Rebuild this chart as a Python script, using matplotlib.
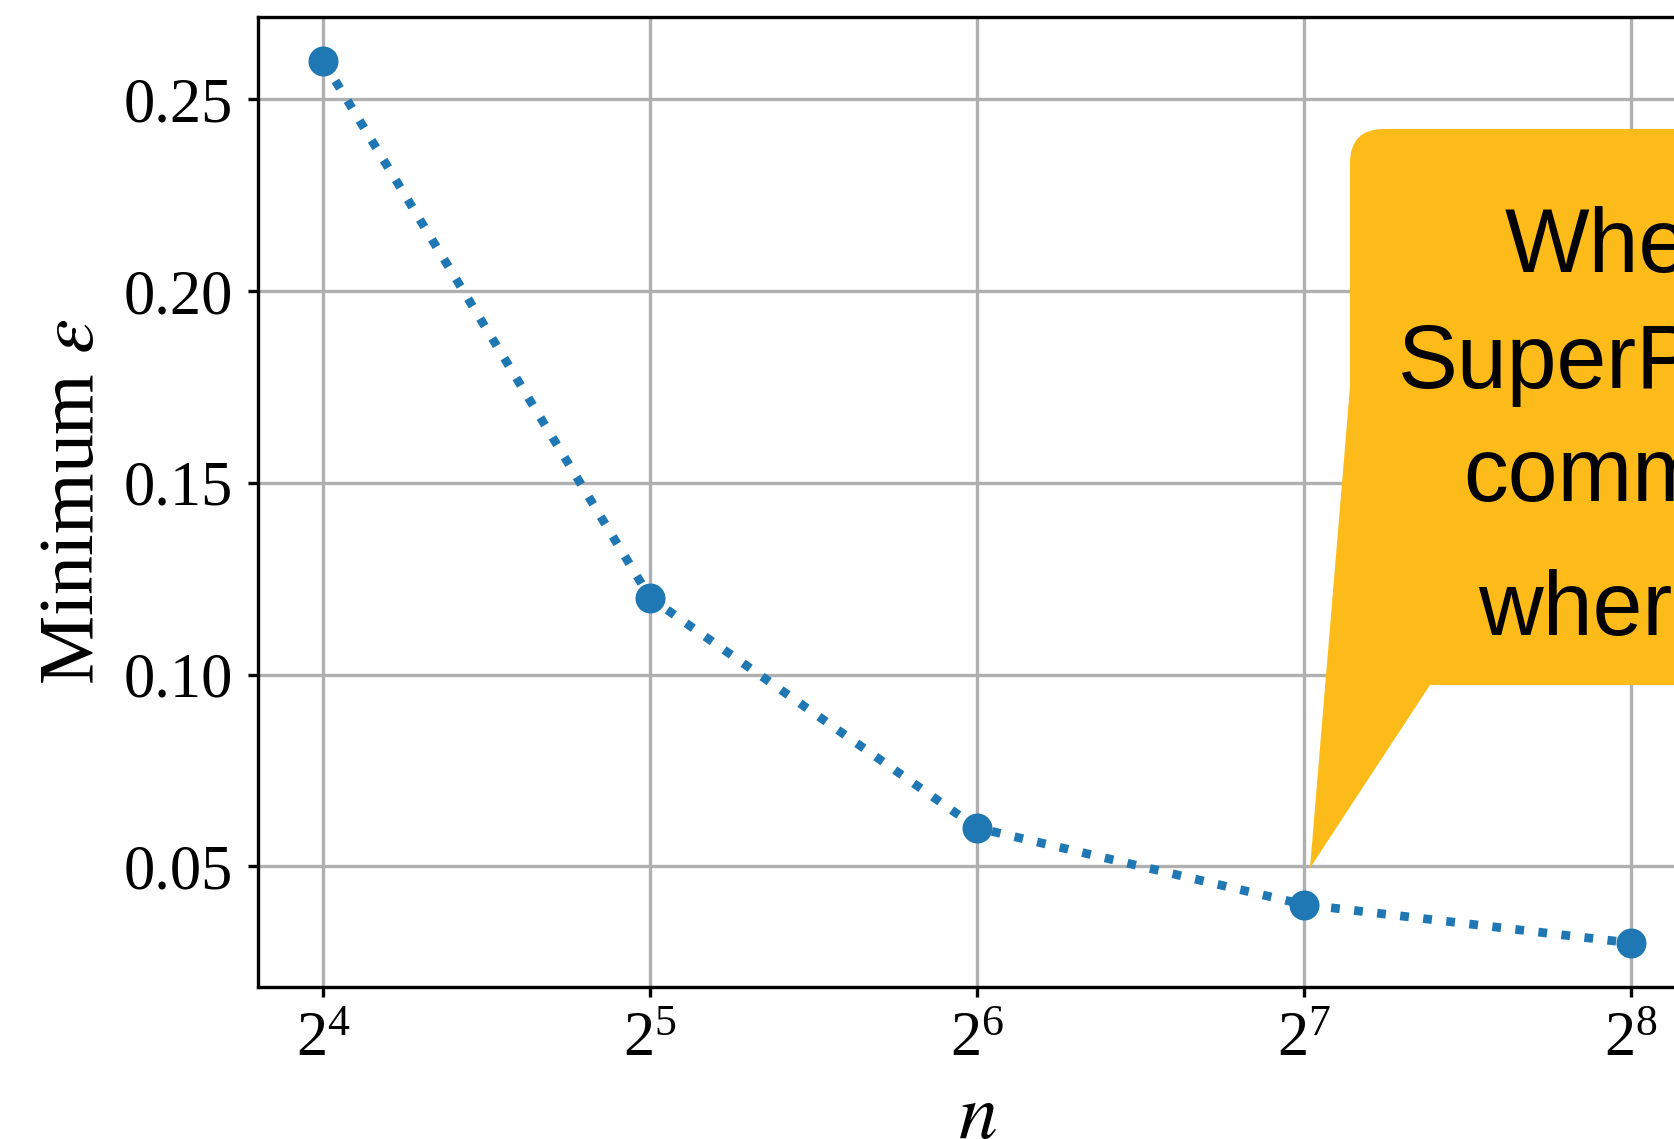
import numpy as np
import matplotlib
matplotlib.use("Agg")
import matplotlib.pyplot as plt
from matplotlib.path import Path
from matplotlib.patches import PathPatch

# data
n_values = [2**4, 2**5, 2**6, 2**7, 2**8]
min_eps = [0.26, 0.12, 0.06, 0.04, 0.03]

# callout text (cut off at the right edge in the reference)
callout_lines = ["When", "SuperPos", "communication", "where"]

plt.rcParams['font.family'] = ['Liberation Serif', 'DejaVu Serif']
plt.rcParams['mathtext.fontset'] = 'stix'

W, H = 1674, 1139
DPI = 300
fig = plt.figure(figsize=(W / DPI, H / DPI), dpi=DPI)

# axes deliberately runs past the right edge of the figure
ax = fig.add_axes([258 / W, 1 - 987 / H, (1696 - 258) / W, (987 - 17) / H])

ax.plot(n_values, min_eps, linestyle=':', linewidth=2.1, marker='o',
        markersize=6.2, color='#1f77b4', zorder=3)
ax.set_xscale('log', base=2)
ax.set_xticks(n_values)
ax.grid(True, color='#b0b0b0', linewidth=0.8)

ax.tick_params(axis='both', labelsize=15, length=2.4, width=0.8, pad=3.5)
ax.set_yticks([0.05, 0.10, 0.15, 0.20, 0.25])
ax.set_yticklabels(['0.05', '0.10', '0.15', '0.20', '0.25'])
for s in ax.spines.values():
    s.set_linewidth(0.8)

ax.set_xlabel('$n$', fontsize=18.7, labelpad=3.4)
ax.set_ylabel(r'Minimum $\varepsilon$', fontsize=18.7, labelpad=3.4)


# speech-bubble callout, in figure pixels
def fp(x, y):
    return (x / W, 1 - y / H)


r = 34
verts = [fp(1350, 387), fp(1310, 868), fp(1430, 685), fp(1800, 685),
         fp(1800, 129), fp(1350 + r, 129), fp(1350, 129), fp(1350, 129 + r),
         fp(1350, 387)]
codes = [Path.MOVETO, Path.LINETO, Path.LINETO, Path.LINETO,
         Path.LINETO, Path.LINETO, Path.CURVE3, Path.CURVE3,
         Path.CLOSEPOLY]
bubble = PathPatch(Path(verts, codes), facecolor='#fdbb19', edgecolor='none',
                   transform=fig.transFigure, clip_on=False, zorder=4)
ax.add_patch(bubble)

line_pos = [(1505, 272), (1398, 388), (1463, 501), (1478, 635)]
for txt, (lx, ly) in zip(callout_lines, line_pos):
    x, y = fp(lx, ly)
    fig.text(x, y, txt, fontsize=21.5, family=['Liberation Sans', 'DejaVu Sans'],
             ha='left', va='baseline', color='black', zorder=5)

fig.savefig('out.png', dpi=DPI)
